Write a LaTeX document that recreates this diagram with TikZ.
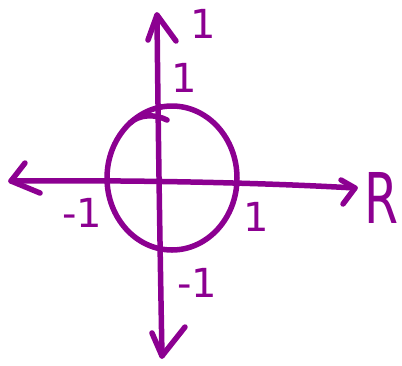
\documentclass[tikz,border=0pt]{standalone}
\usepackage{fontspec}
\setmainfont{DejaVu Sans}
\definecolor{pen}{RGB}{140,0,145}
\begin{document}
\begin{tikzpicture}[x=1pt,y=-1pt,
  ink/.style={draw=pen,line width=5.5pt,line cap=round,line join=round},
  lbl/.style={text=pen,inner sep=0pt,font=\fontsize{40}{40}\selectfont},
  bigl/.style={text=pen,inner sep=0pt,font=\fontsize{70}{70}\selectfont}]
\useasboundingbox (0,0) rectangle (402,365);
% axes
\coordinate (L) at (11,181);
\coordinate (Rt) at (355,188);
\coordinate (T) at (157,15);
\coordinate (B) at (162,356);
\draw[ink] (L) .. controls (120,180) and (250,182) .. (Rt);
\draw[ink] (T) .. controls (158,120) and (160,250) .. (B);
% arrowheads
\draw[ink] (25,163) -- (L) -- (40,193);
\draw[ink] (341,180) -- (Rt) -- (343,204);
\draw[ink] (148,40) -- (T) -- (176,41);
\draw[ink] (152,333) -- (B) -- (185,327);
% circle
\draw[ink] (172,178) ellipse [x radius=65, y radius=72];
\draw[ink] (130,123) .. controls (140,114) and (155,114) .. (167,120);
% labels
\node[lbl] (one1) at (203,24) {1};
\node[lbl] (one2) at (184,78) {1};
\node[lbl] (m1) at (82,213) {-1};
\node[lbl] (one3) at (256,217) {1};
\node[lbl] (m2) at (197,283) {-1};
\node[bigl,xscale=0.7] (R) at (382,198) {R};
\end{tikzpicture}
\end{document}
